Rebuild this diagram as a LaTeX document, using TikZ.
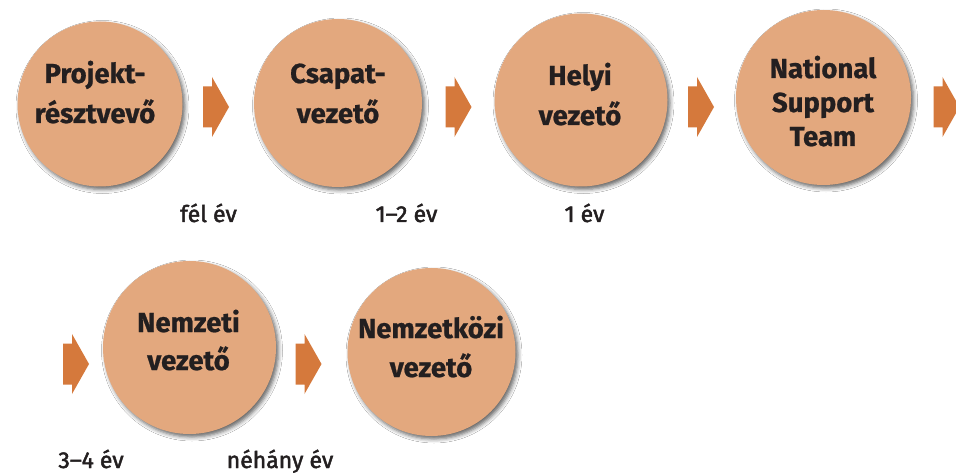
\documentclass[tikz,border=0pt]{standalone}
\usepackage{fontspec}
\setmainfont{Fira Sans}[BoldFeatures={FakeBold=0.8}]
\newfontfamily\periodfont[FakeBold=2]{Fira Sans}
\usetikzlibrary{shadows.blur}
\definecolor{circfill}{HTML}{E3A87E}
\definecolor{arrfill}{HTML}{D5793C}
\definecolor{txt}{HTML}{231F20}
\begin{document}
\begin{tikzpicture}[x=1pt,y=-1pt,
  stage/.style={circle, fill=circfill, inner sep=0pt, minimum size=#1,
    blur shadow={shadow xshift=2.5pt, shadow yshift=-3pt, shadow blur radius=4pt, shadow opacity=60}},
  stagetext/.style={anchor=base, align=center, text=txt, inner sep=0pt,
    font=\bfseries\fontsize{27.5}{#1}\selectfont},
  period/.style={anchor=base, text=txt, inner sep=0pt,
    font=\periodfont\fontsize{23}{28}\selectfont},
  pics/stagearrow/.style={code={
    \fill[arrfill] (-13,-20.5) -- (-4,-20.5) -- (-4,-30) -- (13,0) -- (-4,30)
      -- (-4,20.5) -- (-13,20.5) -- cycle;}}
]
\useasboundingbox[fill=white] (0,0) rectangle (956,473);

% circles
\node[stage=165pt] (c1) at (100,104) {};
\node[stage=168pt] (c2) at (338,103) {};
\node[stage=173pt] (c3) at (581,100) {};
\node[stage=175pt] (c4) at (823.5,97.5) {};
\node[stage=173pt] (c5) at (189.5,347.5) {};
\node[stage=168pt] (c6) at (431.5,352) {};

% circle texts (anchored at last baseline)
\node[stagetext=40pt] (t1) at (95,123) {Projekt-\\résztvevő};
\node[stagetext=40pt] (t2) at (338,123) {Csapat-\\vezető};
\node[stagetext=40pt] (t3) at (580,125) {Helyi\\vezető};
\node[stagetext=34pt] (t4) at (823,146) {National\\Support\\Team};
\node[stagetext=38pt] (t5) at (188.5,370) {Nemzeti\\vezető};
\node[stagetext=39pt] (t6) at (431,377) {Nemzetközi\\vezető};

% arrows
\pic (a1) at (216,107) {stagearrow};
\pic (a2) at (458.5,107) {stagearrow};
\pic (a3) at (701,107) {stagearrow};
\pic (a4) at (946.5,107) {stagearrow};
\pic (a5) at (76,364) {stagearrow};
\pic (a6) at (308.5,364) {stagearrow};

% durations
\node[period] (l1) at (208.5,222) {fél év};
\node[period] (l2) at (406.5,222) {1–2 év};
\node[period] (l3) at (584.5,222) {1 év};
\node[period] (l4) at (91,468) {3–4 év};
\node[period] (l5) at (280,468) {néhány év};
\end{tikzpicture}
\end{document}
